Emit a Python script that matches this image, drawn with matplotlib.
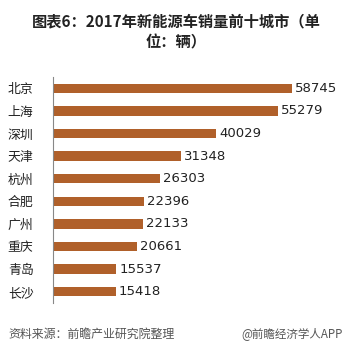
import matplotlib
matplotlib.use("Agg")
import matplotlib.pyplot as plt

plt.rcParams['font.family'] = ['Noto Sans CJK SC', 'DejaVu Sans']

cities = ["北京", "上海", "深圳", "天津", "杭州", "合肥", "广州", "重庆", "青岛", "长沙"]
sales = [58745, 55279, 40029, 31348, 26303, 22396, 22133, 20661, 15537, 15418]

title = "图表6：2017年新能源车销量前十城市（单\n位：辆）"
source = "资料来源：前瞻产业研究院整理"
brand = "@前瞻经济学人APP"

W, H = 353, 352
fig = plt.figure(figsize=(W / 100, H / 100), dpi=100)
fig.patch.set_facecolor("white")

ax = fig.add_axes([53 / W, (H - 303) / H, (345 - 53) / W, (303 - 77) / H])
bar_color = "#B0602A"
pos = list(range(len(cities)))
ax.barh(pos, sales, height=0.42, color=bar_color)
ax.set_ylim(len(cities) - 0.5, -0.5)
ax.set_xlim(0, 58745 * 292 / 239)

for p, v in zip(pos, sales):
    ax.text(v + 800, p, str(v), va="center", ha="left", fontsize=9.5, color="#222222",
            family=["DejaVu Sans"])

ax.set_yticks(pos)
ax.set_yticklabels(cities, fontsize=9.3, color="#222222")
ax.tick_params(axis="y", length=0, pad=14)
ax.set_xticks([])
for s in ["top", "right", "bottom"]:
    ax.spines[s].set_visible(False)
ax.spines["left"].set_color("#888888")
ax.spines["left"].set_linewidth(0.8)

fig.text(0.5, (H - 32) / H, title, ha="center", va="center", fontsize=11,
         fontweight="bold", color="#222222", linespacing=1.35)
fig.text(8 / W, (H - 334) / H, source, ha="left", va="center", fontsize=8.6,
         style="italic", color="#555555")
fig.text(343 / W, (H - 334) / H, brand, ha="right", va="center", fontsize=8.3,
         color="#555555")

fig.savefig("out.png", dpi=100)
